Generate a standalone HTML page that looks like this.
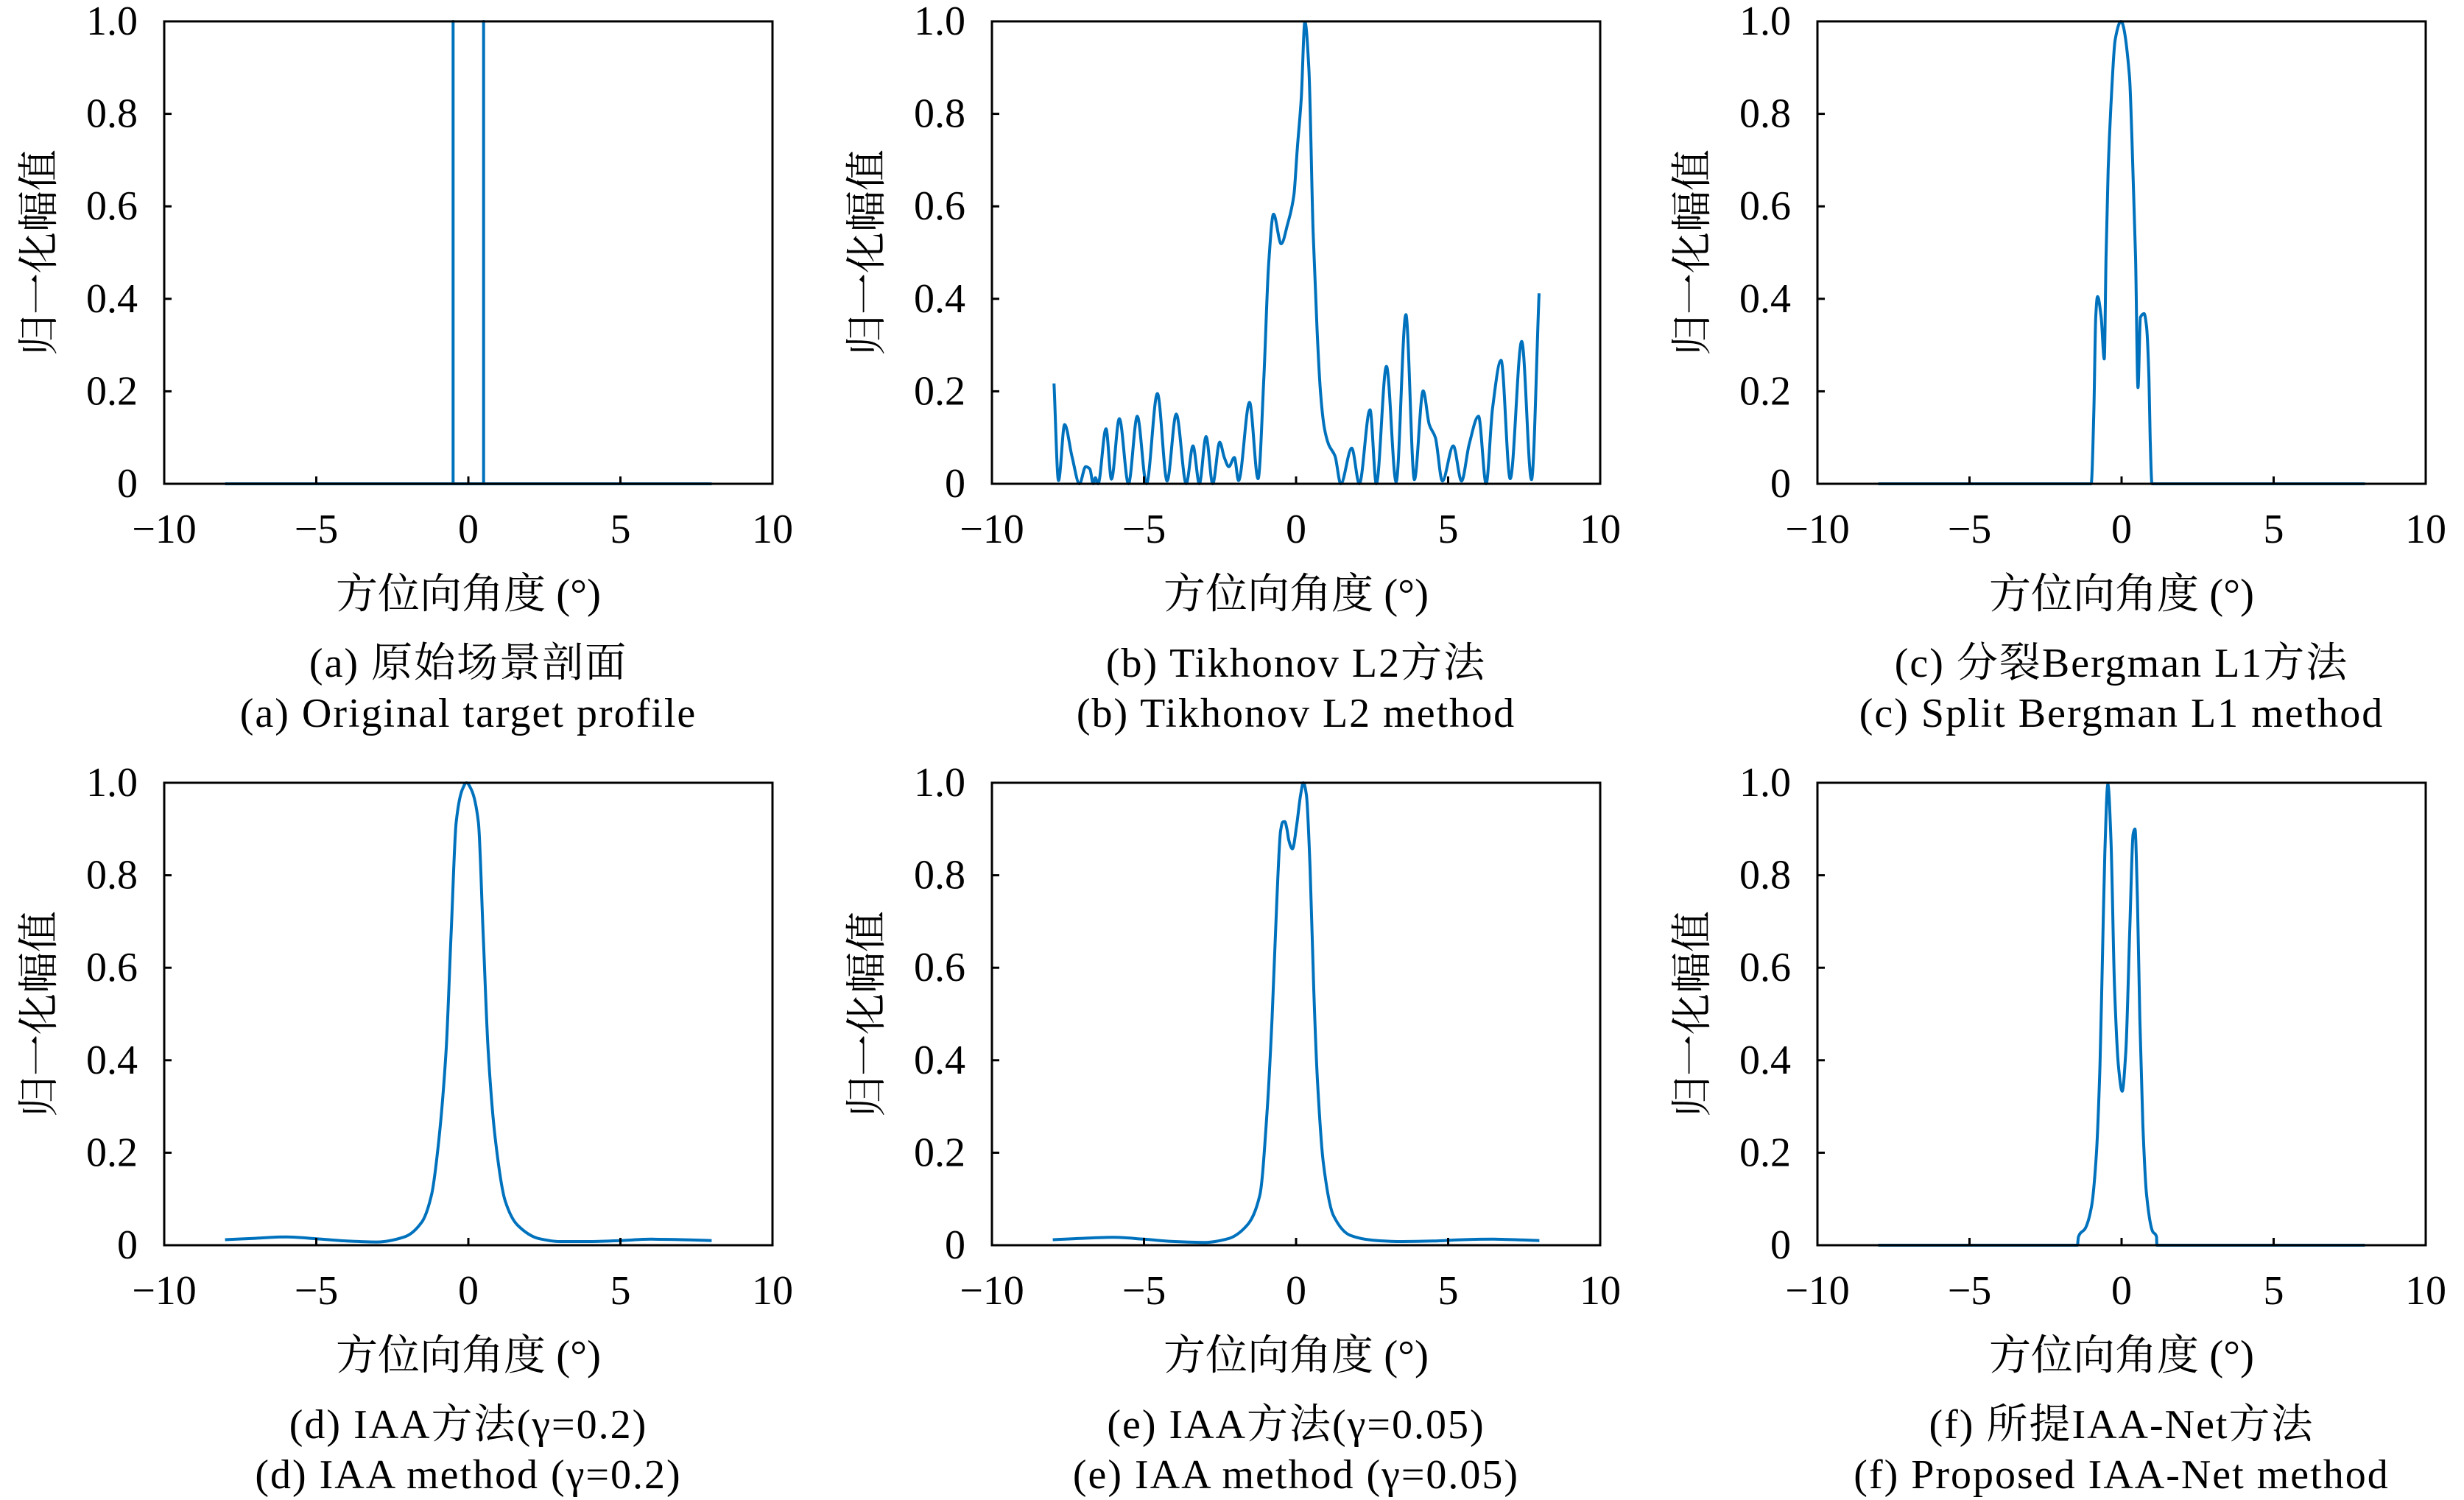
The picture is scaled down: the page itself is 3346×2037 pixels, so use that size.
<!DOCTYPE html>
<html><head><meta charset="utf-8"><style>
html,body{margin:0;padding:0;background:#fff;}
svg{display:block;}
text{font-family:"Liberation Serif","Noto Serif CJK SC",serif;fill:#000;}
</style></head><body>
<svg id="fig" width="3346" height="2037" viewBox="0 0 3346 2037" xmlns="http://www.w3.org/2000/svg"></svg>
<script>
// ---- data ----
const xTicks = [-10, -5, 0, 5, 10];
const xTickLabels = ["\u221210", "\u22125", "0", "5", "10"];
const yTicks = [0, 0.2, 0.4, 0.6, 0.8, 1.0];
const yTickLabels = ["0", "0.2", "0.4", "0.6", "0.8", "1.0"];

const aX = [-8, -0.5, -0.5, -0.5, 0.5, 0.5, 0.5, 8];
const aY = [0, 0, 1, 0, 0, 1, 0, 0];

const bX = [-7.96,-7.81,-7.61,-7.36,-7.12,-6.92,-6.78,-6.67,-6.6,-6.51,-6.25,-6.07,-5.81,-5.51,-5.22,-4.92,-4.56,-4.24,-3.94,-3.61,-3.39,-3.18,-2.96,-2.74,-2.51,-2.36,-2.21,-2.03,-1.89,-1.53,-1.25,-1.06,-0.9,-0.74,-0.49,-0.28,-0.07,0.04,0.17,0.29,0.42,0.56,0.69,0.81,0.93,1.07,1.28,1.47,1.83,2.08,2.43,2.64,2.97,3.29,3.61,3.89,4.18,4.38,4.58,4.81,5.17,5.44,5.69,6.0,6.25,6.46,6.74,7.04,7.42,7.74,7.99];
const bY = [0.217,0.007,0.128,0.057,0.0,0.037,0.032,0,0.013,0,0.119,0.01,0.141,0,0.146,0,0.195,0.006,0.151,0,0.082,0,0.102,0,0.09,0.057,0.037,0.057,0.007,0.176,0.011,0.227,0.476,0.583,0.519,0.561,0.625,0.725,0.832,0.999,0.9,0.547,0.334,0.192,0.121,0.085,0.06,0,0.077,0,0.16,0,0.254,0.004,0.366,0.009,0.201,0.128,0.1,0.006,0.082,0.006,0.085,0.146,0,0.163,0.267,0.011,0.308,0.009,0.412];

const cX = [-8,-1.0,-0.91,-0.85,-0.79,-0.67,-0.57,-0.51,-0.44,-0.35,-0.21,-0.02,0.26,0.34,0.46,0.54,0.62,0.74,0.82,0.9,0.94,1.0,8];
const cY = [0,0,0.16,0.36,0.405,0.36,0.27,0.49,0.68,0.817,0.96,1.0,0.882,0.75,0.49,0.208,0.36,0.368,0.34,0.227,0.1,0,0];

const dX = [-8,-7,-6,-5,-4,-3,-2.1,-1.53,-1.21,-0.97,-0.73,-0.56,-0.4,-0.2,-0.06,0.1,0.33,0.48,0.65,0.89,1.21,1.61,2.34,3,4,5,6,7,8];
const dY = [0.012,0.015,0.018,0.014,0.009,0.007,0.018,0.05,0.109,0.227,0.424,0.685,0.915,0.985,1.0,0.985,0.915,0.685,0.424,0.227,0.096,0.044,0.014,0.008,0.008,0.01,0.013,0.012,0.01];

const eX = [-8,-7,-6,-5,-4,-3,-2.24,-1.6,-1.19,-0.95,-0.79,-0.63,-0.51,-0.44,-0.37,-0.3,-0.24,-0.12,0.02,0.15,0.24,0.34,0.46,0.58,0.7,0.9,1.23,1.79,2.5,3.4,4.5,5.5,6.5,8];
const eY = [0.012,0.015,0.017,0.013,0.008,0.006,0.014,0.044,0.109,0.293,0.49,0.75,0.895,0.915,0.916,0.9,0.876,0.857,0.908,0.974,1.0,0.974,0.817,0.555,0.36,0.176,0.064,0.021,0.011,0.008,0.009,0.012,0.013,0.01];

const fX = [-8,-1.45,-1.42,-1.19,-0.99,-0.83,-0.71,-0.63,-0.55,-0.45,-0.35,-0.23,-0.1,0.02,0.14,0.27,0.38,0.44,0.52,0.6,0.7,0.82,1.02,1.15,1.16,8];
const fY = [0,0,0.018,0.037,0.083,0.195,0.39,0.62,0.85,0.997,0.88,0.555,0.385,0.333,0.42,0.686,0.889,0.9,0.75,0.49,0.26,0.11,0.03,0.018,0,0];

const seriesX = [aX, bX, cX, dX, eX, fX];
const seriesY = [aY, bY, cY, dY, eY, fY];
const captionsCN = ["(a) 原始场景剖面", "(b) Tikhonov L2方法", "(c) 分裂Bergman L1方法", "(d) IAA方法(γ=0.2)", "(e) IAA方法(γ=0.05)", "(f) 所提IAA-Net方法"];
const captionsEN = ["(a) Original target profile", "(b) Tikhonov L2 method", "(c) Split Bergman L1 method", "(d) IAA method (γ=0.2)", "(e) IAA method (γ=0.05)", "(f) Proposed IAA-Net method"];
const panelKeys = ["a","b","c","d","e","f"];

// ---- layout ----
const NS = "http://www.w3.org/2000/svg";
const svg = document.getElementById("fig");
const lefts = [223, 1347, 2468], tops = [29, 1063], W = 826, H = 628;

function mk(tag, attrs, parent) {
  const e = document.createElementNS(NS, tag);
  for (const k in attrs) e.setAttribute(k, attrs[k]);
  (parent || svg).appendChild(e);
  return e;
}

// monotone cubic path (pixel coords)
function monoPath(px, py) {
  const n = px.length;
  if (n < 3) return "M" + px[0] + "," + py[0] + "L" + px[1] + "," + py[1];
  const dx = [], s = [];
  for (let i = 0; i < n - 1; i++) { dx.push(px[i+1]-px[i]); s.push(dx[i] ? (py[i+1]-py[i]) / dx[i] : 0); }
  const m = new Array(n);
  m[0] = s[0]; m[n-1] = s[n-2];
  for (let i = 1; i < n - 1; i++) m[i] = (s[i-1] * s[i] <= 0) ? 0 : 3 * (dx[i-1] + dx[i]) / ((2*dx[i] + dx[i-1]) / s[i-1] + (dx[i] + 2*dx[i-1]) / s[i]);
  let d = "M" + px[0].toFixed(1) + "," + py[0].toFixed(1);
  for (let i = 0; i < n - 1; i++) {
    const h = dx[i] / 3;
    d += "C" + (px[i]+h).toFixed(1) + "," + (py[i]+m[i]*h).toFixed(1) + " " + (px[i+1]-h).toFixed(1) + "," + (py[i+1]-m[i+1]*h).toFixed(1) + " " + px[i+1].toFixed(1) + "," + py[i+1].toFixed(1);
  }
  return d;
}

for (let p = 0; p < 6; p++) {
  const L = lefts[p % 3], T = tops[Math.floor(p / 3)], B = T + H;
  const sx = v => L + (v + 10) / 20 * W;
  const sy = v => B - v * H;
  const g = mk("g", {});
  
  

  const xs = seriesX[p], ys = seriesY[p];
  const px = xs.map(sx), py = ys.map(sy);
  let d;
  if (p === 0) {
    d = "";
    for (let i = 0; i < px.length; i++) d += (i ? "L" : "M") + px[i].toFixed(1) + "," + py[i].toFixed(1);
  } else {
    d = monoPath(px, py);
  }
  const line = mk("path", {d: d, fill: "none", stroke: "#0072BD", "stroke-width": 4, "stroke-linejoin": "round"}, g);
  
  

  const box = mk("rect", {x: L, y: T, width: W, height: H, fill: "none", stroke: "#000", "stroke-width": 3}, g);
  
  

  for (let i = 0; i < xTicks.length; i++) {
    const x = sx(xTicks[i]);
    const t = mk("line", {x1: x, x2: x, y1: B, y2: B - 10, stroke: "#000", "stroke-width": 3}, g);
    
    
    const lb = mk("text", {x: x, y: B + 62, "text-anchor": "middle", "dominant-baseline": "central", "font-size": 56}, g);
    lb.textContent = xTickLabels[i];
    
    
  }
  for (let i = 0; i < yTicks.length; i++) {
    const y = sy(yTicks[i]);
    const t = mk("line", {x1: L, x2: L + 10, y1: y, y2: y, stroke: "#000", "stroke-width": 3}, g);
    
    
    const lb = mk("text", {x: L - 36, y: y, "text-anchor": "end", "dominant-baseline": "central", "font-size": 56}, g);
    lb.textContent = yTickLabels[i];
    
    
  }
  const xt = mk("text", {x: L + W / 2, y: B + 150, "text-anchor": "middle", "dominant-baseline": "central", "font-size": 57}, g);
  xt.textContent = "方位向角度 (°)";
  
  
  const yx = L - 169, yy = T + H / 2;
  const yt = mk("text", {x: yx, y: yy, "text-anchor": "middle", "dominant-baseline": "central", "font-size": 56, transform: "rotate(-90 " + yx + " " + yy + ")"}, g);
  yt.textContent = "归一化幅值";
  
  
  const c1 = mk("text", {x: L + W / 2, y: B + 244, "text-anchor": "middle", "dominant-baseline": "central", "font-size": 56, "letter-spacing": 2}, g);
  c1.textContent = captionsCN[p];
  
  
  const c2 = mk("text", {x: L + W / 2, y: B + 312, "text-anchor": "middle", "dominant-baseline": "central", "font-size": 56, "letter-spacing": 2}, g);
  c2.textContent = captionsEN[p];
  
  
}
</script>
</body></html>
